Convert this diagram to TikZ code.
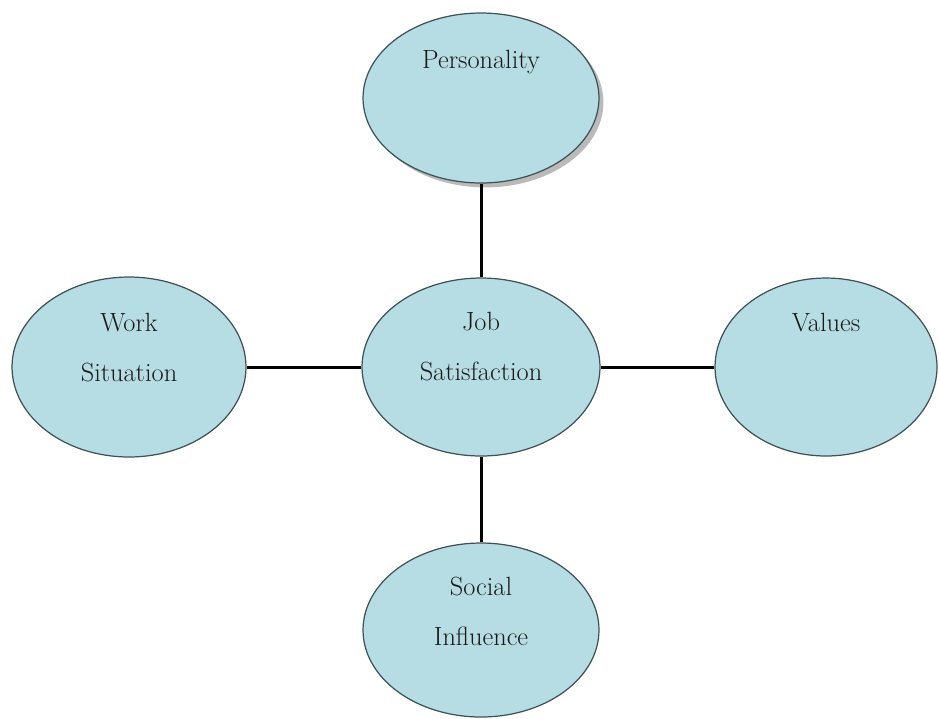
\documentclass[tikz,border=0pt]{standalone}
\usepackage{tikz}
\usetikzlibrary{shapes, positioning, shadows}
\usepackage{xcolor}
\definecolor{PaleAqua}{RGB}{183,221,228}
\definecolor{EdgeGray}{RGB}{62,82,86}

\begin{document}
\begin{tikzpicture}[
          x=0.02cm, y=-0.02cm,
          factor/.style={ellipse, draw=EdgeGray, line width=0.7pt, fill=PaleAqua, minimum width=4.72cm, minimum height=3.5cm, inner sep=0pt},
          caption/.style={inner sep=0pt, align=center, font=\fontsize{15}{28.5}\selectfont, text=black!90},
          link/.style={line width=1.7pt, black}
        ]
          \useasboundingbox (0,0) rectangle (939,718);

          \node (job) [factor, minimum width=4.76cm, minimum height=3.56cm] at (481,367) {};
          \node (personality) [factor, minimum height=3.4cm, drop shadow={shadow xshift=2.5pt, shadow yshift=-2.5pt, opacity=0.45, fill=black!60}] at (481,98) {};
          \node (work) [factor, minimum width=4.68cm, minimum height=3.6cm] at (129,367) {};
          \node (values) [factor, minimum width=4.44cm, minimum height=3.56cm] at (826,367) {};
          \node (social) [factor, minimum height=3.48cm] at (481,630) {};

          \node (personalitytext) [caption, below=0.74cm of personality.north, anchor=north] {Personality};
          \node (jobtext) [caption, below=0.68cm of job.north, anchor=north] {Job\\Satisfaction};
          \node (worktext) [caption, below=0.72cm of work.north, anchor=north] {Work\\Situation};
          \node (valuestext) [caption, below=0.7cm of values.north, anchor=north] {Values};
          \node (socialtext) [caption, below=0.68cm of social.north, anchor=north] {Social\\Influence};

          \draw [link] (personality.south) -- (job.north);
          \draw [link] (work.east) -- (job.west);
          \draw [link] (job.east) -- (values.west);
          \draw [link] (job.south) -- (social.north);
        \end{tikzpicture}
\end{document}
